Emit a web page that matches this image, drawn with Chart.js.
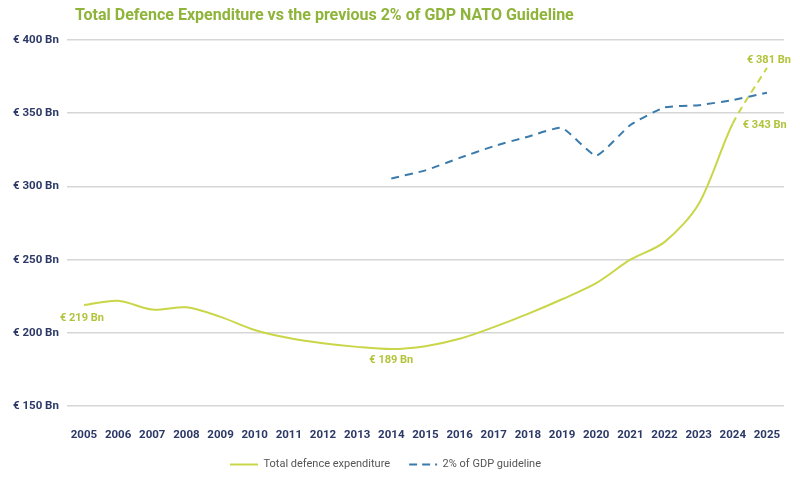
<!DOCTYPE html>
<html>
<head>
<meta charset="utf-8">
<script src="https://cdn.jsdelivr.net/npm/chart.js@4.4.1/dist/chart.umd.min.js"></script>
<style>
  html, body { margin: 0; padding: 0; background: #fff; }
  #wrap { position: relative; width: 800px; height: 478px; }
  #title {
    position: absolute; left: 75px; top: 5px;
    font-family: Roboto, sans-serif;
    font-weight: bold; font-size: 16px; color: #8fb43a;
  }
</style>
</head>
<body>
<div id="wrap">
  <div id="title">Total Defence Expenditure vs the previous 2% of GDP NATO Guideline</div>
  <canvas id="chart" width="800" height="478"></canvas>
</div>
<script>
const years = ['2005','2006','2007','2008','2009','2010','2011','2012','2013','2014','2015',
               '2016','2017','2018','2019','2020','2021','2022','2023','2024','2025'];
const totalSpend = [219, 222, 216, 217.5, 211, 202, 196.5, 193, 190.5, 189, 191,
                    196, 204, 213, 223, 234, 250, 262, 288, 343, 381];
const gdpGuideline = [null, null, null, null, null, null, null, null, null, 305.5, 311,
                      319.5, 327.5, 334, 340, 321, 342, 354, 355.5, 359, 364];
const yTicks = [150, 200, 250, 300, 350, 400];

// which points get a value label, and where it sits
const spendLabels = [
  { i: 0, dx: -2, dy: 13, align: 'center' },
  { i: 9, dx: 0, dy: 11, align: 'center' },
  { i: 19, dx: 10, dy: 2, align: 'left' },
  { i: 20, dx: 2, dy: -8, align: 'center' }
];

const green = '#c9d648';
const blue = '#3b7bab';
const navy = '#2c3966';

const valueLabels = {
  id: 'valueLabels',
  afterDatasetsDraw(chart) {
    const ctx = chart.ctx;
    const meta = chart.getDatasetMeta(0);
    ctx.save();
    ctx.font = 'bold 11px Roboto, sans-serif';
    ctx.fillStyle = '#b3c33a';
    ctx.textBaseline = 'middle';
    spendLabels.forEach(l => {
      const pt = meta.data[l.i];
      ctx.textAlign = l.align;
      ctx.fillText('€ ' + Math.round(totalSpend[l.i]) + ' Bn', pt.x + l.dx, pt.y + l.dy);
    });
    ctx.restore();
  }
};

// nudge the legend a little left, like the original
const legendShift = {
  id: 'legendShift',
  afterLayout(chart) {
    chart.legend.left -= 9;
    chart.legend.right -= 9;
  }
};

new Chart(document.getElementById('chart').getContext('2d'), {
  type: 'line',
  data: {
    labels: years,
    datasets: [{
      label: 'Total defence expenditure',
      data: totalSpend,
      borderColor: green,
      backgroundColor: green,
      borderWidth: 2,
      pointRadius: 0,
      tension: 0.3,
      segment: {
        borderDash: c => c.p0DataIndex >= 19 ? [7, 5] : undefined
      }
    }, {
      label: '2% of GDP guideline',
      data: gdpGuideline,
      borderColor: blue,
      backgroundColor: blue,
      borderWidth: 2,
      borderDash: [8, 6],
      pointRadius: 0,
      tension: 0.15
    }]
  },
  options: {
    responsive: false,
    animation: false,
    layout: { padding: { top: 40, left: 5, right: 16, bottom: -2 } },
    plugins: {
      title: { display: false },
      tooltip: { enabled: false },
      legend: {
        position: 'bottom',
        labels: {
          usePointStyle: true,
          pointStyle: 'line',
          pointStyleWidth: 28,
          boxHeight: 8,
          padding: 19,
          color: '#555',
          font: { family: 'Roboto, sans-serif', size: 11 },
          generateLabels: chart => {
            const items = Chart.defaults.plugins.legend.labels.generateLabels(chart);
            items.forEach(it => {
              it.lineDash = it.datasetIndex === 1 ? [8, 5] : [];
              it.lineWidth = 2;
            });
            return items;
          }
        }
      }
    },
    scales: {
      x: {
        offset: true,
        grid: { display: false },
        border: { display: false },
        afterFit: scale => { scale.height -= 16; },
        ticks: {
          color: navy,
          padding: 14,
          maxRotation: 0,
          autoSkip: false,
          font: { family: 'Roboto, sans-serif', size: 11.5, weight: 'bold' }
        }
      },
      y: {
        min: 150,
        max: 400,
        afterBuildTicks: axis => { axis.ticks = yTicks.map(v => ({ value: v })); },
        grid: { color: '#d6d6d6', lineWidth: 1.5, drawTicks: false },
        border: { display: false },
        ticks: {
          color: navy,
          padding: 8,
          font: { family: 'Roboto, sans-serif', size: 11.5, weight: 'bold' },
          callback: v => '€ ' + v + ' Bn'
        }
      }
    }
  },
  plugins: [valueLabels, legendShift]
});
</script>
</body>
</html>
